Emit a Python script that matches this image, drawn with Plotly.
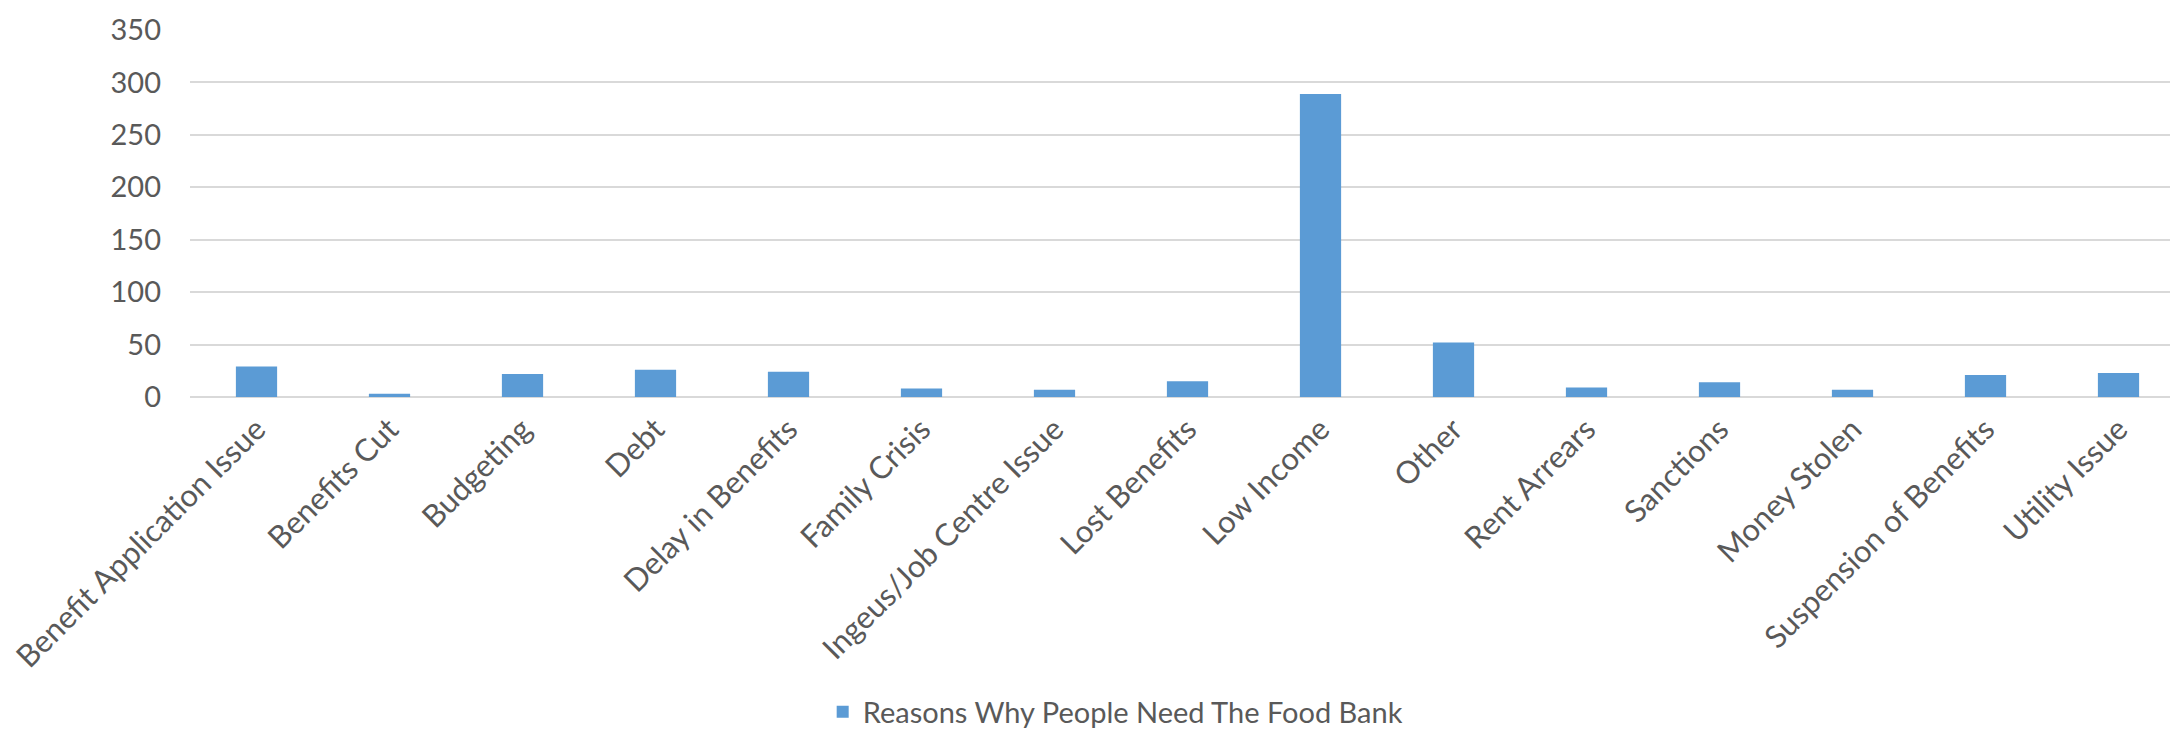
import plotly.graph_objects as go

categories = ["Benefit Application Issue", "Benefits Cut", "Budgeting", "Debt",
              "Delay in Benefits", "Family Crisis", "Ingeus/Job Centre Issue",
              "Lost Benefits", "Low Income", "Other", "Rent Arrears", "Sanctions",
              "Money Stolen", "Suspension of Benefits", "Utility Issue"]
values = [29, 3, 22, 26, 24, 8, 7, 15, 289, 52, 9, 14, 7, 21, 23]
series_name = "Reasons Why People Need The Food Bank"
y_ticks = [0, 50, 100, 150, 200, 250, 300, 350]

TEXT = "#595959"
FONT = "Lato, Carlito, Calibri, sans-serif"

fig = go.Figure(go.Bar(x=categories, y=values, name=series_name,
                       marker=dict(color="#5B9BD5", line=dict(width=0))))

fig.update_layout(
    width=2178, height=731,
    margin=dict(l=182, r=1, t=22, b=336),
    paper_bgcolor="white", plot_bgcolor="white",
    bargap=0.69,
    font=dict(family=FONT, color=TEXT, size=29),
    showlegend=True,
    legend=dict(orientation="h", x=0.464, xanchor="center", y=-0.858, yanchor="middle",
                font=dict(size=29, color=TEXT)),
    xaxis=dict(tickangle=-45, tickfont=dict(size=31, color=TEXT), showgrid=False,
               showline=False, ticks="", automargin=False, ticklabelstandoff=7),
    yaxis=dict(range=[0, 350], tickvals=y_ticks, tickfont=dict(size=29, color=TEXT),
               showgrid=True, gridcolor="#D9D9D9", gridwidth=1.5, zeroline=True,
               zerolinecolor="#D9D9D9", zerolinewidth=1.5, showline=False, ticks="",
               ticklabelstandoff=28, automargin=False),
)

fig.write_html("out.html")
